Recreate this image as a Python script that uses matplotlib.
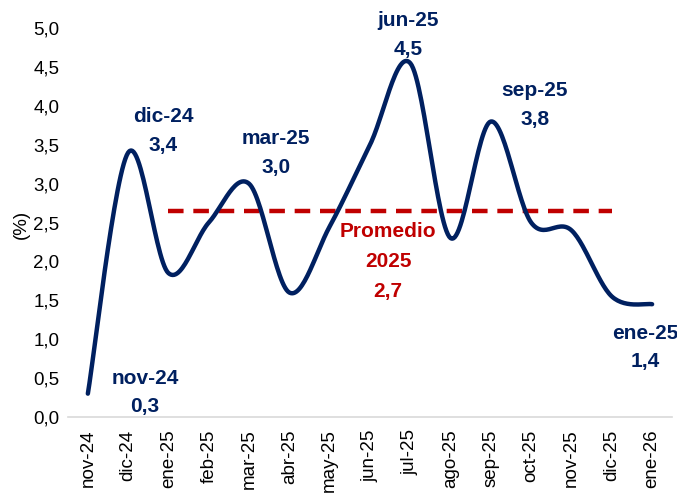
import matplotlib
matplotlib.use("Agg")
import matplotlib.pyplot as plt
import numpy as np

months = ["nov-24", "dic-24", "ene-25", "feb-25", "mar-25", "abr-25", "may-25",
          "jun-25", "jul-25", "ago-25", "sep-25", "oct-25", "nov-25", "dic-25", "ene-26"]
values = [0.3, 3.4, 1.85, 2.5, 3.0, 1.6, 2.45, 3.5, 4.55, 2.3, 3.8, 2.5, 2.4, 1.55, 1.45]
avg_2025 = 2.65
avg_start, avg_end = 2, 13

navy = "#002060"
red = "#C00000"


def smooth(xs, ys, n=30):
    # Catmull-Rom style smoothing, similar to Excel's smoothed line
    xs = np.asarray(xs, float)
    ys = np.asarray(ys, float)
    px = np.concatenate([[xs[0]], xs, [xs[-1]]])
    py = np.concatenate([[ys[0]], ys, [ys[-1]]])
    out_x, out_y = [], []
    t = np.linspace(0, 1, n)
    for i in range(1, len(px) - 2):
        p0, p1, p2, p3 = [np.array([px[j], py[j]]) for j in (i - 1, i, i + 1, i + 2)]
        c1 = p1 + (p2 - p0) / 6
        c2 = p2 - (p3 - p1) / 6
        b = ((1 - t) ** 3)[:, None] * p1 + (3 * (1 - t) ** 2 * t)[:, None] * c1 \
            + (3 * (1 - t) * t ** 2)[:, None] * c2 + (t ** 3)[:, None] * p2
        out_x.extend(b[:, 0])
        out_y.extend(b[:, 1])
    return out_x, out_y


fig = plt.figure(figsize=(6.77, 5.03), dpi=100)
ax = fig.add_axes([0.100, 0.171, 0.893, 0.773])

x = np.arange(len(months))
sx, sy = smooth(x, values)
ax.plot(sx, sy, color=navy, lw=3.2, solid_capstyle="round", zorder=3)
ax.plot([avg_start, avg_end], [avg_2025, avg_2025], color=red, lw=3.2,
        dashes=(3.5, 2.2), zorder=2)

ax.set_xlim(-0.5, len(months) - 0.5)
ax.set_ylim(0, 5)
ax.set_yticks(np.arange(0, 5.01, 0.5))
ax.set_yticklabels([f"{v:.1f}".replace(".", ",") for v in np.arange(0, 5.01, 0.5)])
ax.set_xticks(x)
ax.set_xticklabels(months, rotation=90)
ax.tick_params(axis="both", length=0, labelsize=13.5, colors="black")
ax.tick_params(axis="x", pad=9)
ax.tick_params(axis="y", pad=6)
for lab in ax.get_xticklabels() + ax.get_yticklabels():
    lab.set_family(["Liberation Sans", "DejaVu Sans"])

for s in ["top", "right", "left"]:
    ax.spines[s].set_visible(False)
ax.spines["bottom"].set_color("#D9D9D9")
ax.spines["bottom"].set_linewidth(1.2)

fig.text(0.032, 0.553, "(%)", rotation=90, ha="center", va="center", fontsize=13.5,
         family=["Liberation Sans", "DejaVu Sans"])

lab_font = dict(fontsize=15, fontweight="bold", ha="center", va="center",
                family=["Liberation Sans", "DejaVu Sans"])
notes = [
    (1.42, 0.50, "nov-24", "0,3"),
    (1.87, 3.86, "dic-24", "3,4"),
    (4.66, 3.58, "mar-25", "3,0"),
    (7.95, 5.10, "jun-25", "4,5"),
    (11.09, 4.20, "sep-25", "3,8"),
    (13.83, 1.08, "ene-25", "1,4"),
]
for nx, ny, top, bottom in notes:
    ax.text(nx, ny, top, color=navy, clip_on=False, **lab_font)
    ax.text(nx, ny - 0.37, bottom, color=navy, clip_on=False, **lab_font)

for i, line in enumerate(["Promedio", "2025", "2,7"]):
    ax.text(7.45, 2.38 - i * 0.38, line, color=red, **lab_font)

fig.savefig("out.png", dpi=100)
